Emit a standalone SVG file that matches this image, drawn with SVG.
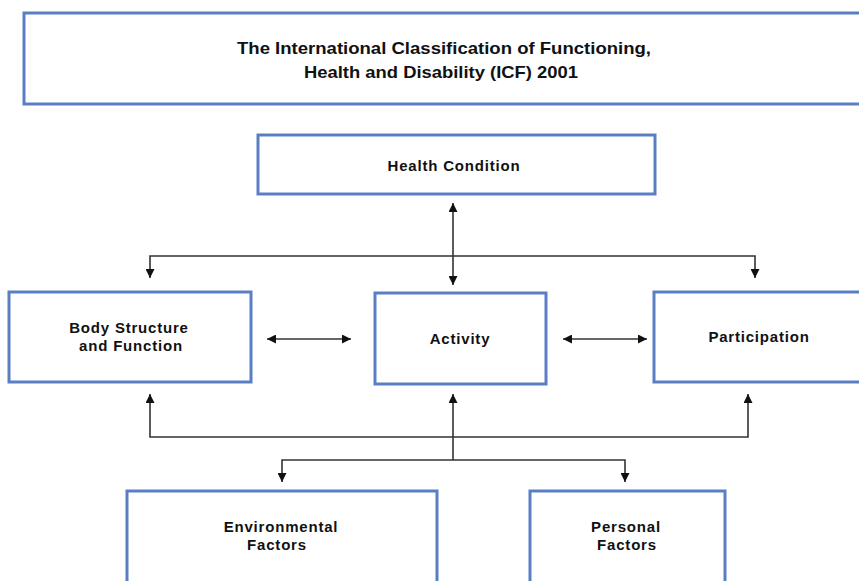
<svg xmlns="http://www.w3.org/2000/svg" width="859" height="581" viewBox="0 0 859 581">
<style>
.box{fill:#ffffff;stroke:#5A7EC4;stroke-width:3}
.t{font-family:"Liberation Sans",Arial,sans-serif;font-weight:bold;font-size:15px;fill:#111;text-anchor:middle;letter-spacing:0.8px}
.tt{font-family:"Liberation Sans",Arial,sans-serif;font-weight:bold;font-size:17px;fill:#111;text-anchor:middle}
.c{fill:none;stroke:#333;stroke-width:1.6}
</style>
<defs>
<marker id="ah" viewBox="0 0 10 10" refX="10" refY="5" markerWidth="10" markerHeight="9" markerUnits="userSpaceOnUse" orient="auto-start-reverse">
<path d="M0,0 L10,5 L0,10 z" fill="#111"/>
</marker>
</defs>
<rect width="859" height="581" fill="#ffffff"/>
<g id="title">
<rect class="box" x="24" y="13" width="850" height="91"/>
<text class="tt" x="444" y="54" textLength="414" lengthAdjust="spacingAndGlyphs">The International Classification of Functioning,</text>
<text class="tt" x="441" y="78" textLength="274" lengthAdjust="spacingAndGlyphs">Health and Disability (ICF) 2001</text>
</g>
<g id="health">
<rect class="box" x="258" y="135" width="397" height="59"/>
<text class="t" x="454" y="171">Health Condition</text>
</g>
<g id="body">
<rect class="box" x="9" y="292" width="242" height="90"/>
<text class="t" x="129" y="333">Body Structure</text>
<text class="t" x="131" y="351">and Function</text>
</g>
<g id="activity">
<rect class="box" x="375" y="293" width="171" height="91"/>
<text class="t" x="460" y="344">Activity</text>
</g>
<g id="participation">
<rect class="box" x="654" y="292" width="220" height="90"/>
<text class="t" x="759" y="342">Participation</text>
</g>
<g id="environmental">
<rect class="box" x="127" y="491" width="310" height="100"/>
<text class="t" x="281" y="532">Environmental</text>
<text class="t" x="277" y="550">Factors</text>
</g>
<g id="personal">
<rect class="box" x="530" y="491" width="195" height="100"/>
<text class="t" x="626" y="532">Personal</text>
<text class="t" x="627" y="550">Factors</text>
</g>
<g id="connectors">
<line class="c" x1="453" y1="203" x2="453" y2="285" marker-start="url(#ah)" marker-end="url(#ah)"/>
<polyline class="c" points="150,278 150,256 755,256 755,278" marker-start="url(#ah)" marker-end="url(#ah)"/>
<line class="c" x1="267" y1="339" x2="351" y2="339" marker-start="url(#ah)" marker-end="url(#ah)"/>
<line class="c" x1="563" y1="339" x2="647" y2="339" marker-start="url(#ah)" marker-end="url(#ah)"/>
<polyline class="c" points="150,394 150,437 748,437 748,394" marker-start="url(#ah)" marker-end="url(#ah)"/>
<line class="c" x1="453" y1="460" x2="453" y2="394" marker-end="url(#ah)"/>
<polyline class="c" points="282,482 282,460 625,460 625,482" marker-start="url(#ah)" marker-end="url(#ah)"/>
</g>
</svg>
